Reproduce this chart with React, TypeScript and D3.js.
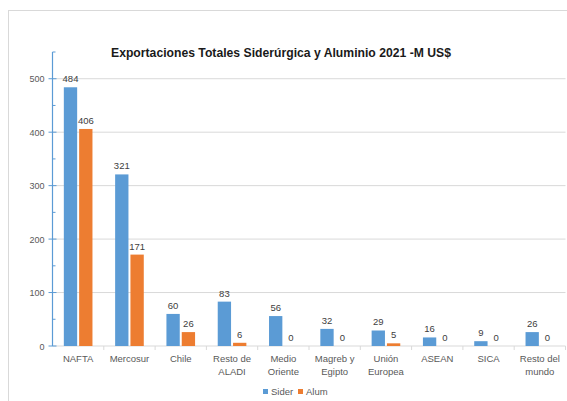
import * as d3 from "d3"

const categories = [
  ["NAFTA"],
  ["Mercosur"],
  ["Chile"],
  ["Resto de", "ALADI"],
  ["Medio", "Oriente"],
  ["Magreb y", "Egipto"],
  ["Unión", "Europea"],
  ["ASEAN"],
  ["SICA"],
  ["Resto del", "mundo"],
]
const sider = [484, 321, 60, 83, 56, 32, 29, 16, 9, 26]
const alum = [406, 171, 26, 6, 0, 0, 5, 0, 0, 0]
const seriesNames = ["Sider", "Alum"]
const colors = ["#5B9BD5", "#ED7D31"]
const yTicks = [0, 100, 200, 300, 400, 500]
const title = "Exportaciones Totales Siderúrgica y Aluminio 2021 -M US$"

const W = 567
const H = 401
const left = 52.5
const right = 565.5
const top = 52
const bottom = 346
const textColor = "#595959"
const font = "'Liberation Sans', Arial, sans-serif"

export default function App() {
  const keys = categories.map((c) => c.join(" "))
  const x = d3.scaleBand<string>().domain(keys).range([left, right]).paddingInner(0).paddingOuter(0)
  const x1 = d3
    .scaleBand<string>()
    .domain(seriesNames)
    .range([0, x.bandwidth()])
    .paddingInner(0.13)
    .paddingOuter(0.74)
  const y = d3.scaleLinear().domain([0, 550]).range([bottom, top])
  const minor = d3.range(50, 551, 100)
  const values = [sider, alum]

  return (
    <svg
      width={W}
      height={H}
      style={{ position: "absolute", left: 0, top: 0, background: "#fff" }}
      fontFamily={font}
    >
      <rect x={8.5} y={10.5} width={620} height={420} fill="#fff" stroke="#D9D9D9" />
      <text
        x={281}
        y={57}
        textAnchor="middle"
        fontSize={13.5}
        fontWeight="bold"
        fill="#1a1a1a"
        textLength={340}
        lengthAdjust="spacingAndGlyphs"
      >
        {title}
      </text>

      {/* grid */}
      {yTicks.slice(1).map((t) => (
        <line key={t} x1={left} x2={right} y1={y(t)} y2={y(t)} stroke="#D9D9D9" />
      ))}

      {/* x axis */}
      <line x1={left} x2={right} y1={bottom} y2={bottom} stroke="#D9D9D9" />
      {keys.map((k) => (
        <line key={k} x1={x(k)! + x.bandwidth()} x2={x(k)! + x.bandwidth()} y1={bottom} y2={bottom + 4} stroke="#D9D9D9" />
      ))}

      {/* y axis */}
      <line x1={left} x2={left} y1={top} y2={bottom} stroke="#5B9BD5" strokeWidth={1.2} />
      {yTicks.map((t) => (
        <g key={t}>
          <line x1={left - 4} x2={left + 4} y1={y(t)} y2={y(t)} stroke="#5B9BD5" />
          <text x={left - 8} y={y(t) + 3.5} textAnchor="end" fontSize={9} fill={textColor}>
            {t}
          </text>
        </g>
      ))}
      {minor.map((t) => (
        <line key={t} x1={left} x2={left + 3} y1={y(t)} y2={y(t)} stroke="#5B9BD5" />
      ))}

      {/* bars */}
      {keys.map((k, i) => (
        <g key={k} transform={`translate(${x(k)},0)`}>
          {seriesNames.map((s, j) => {
            const v = values[j][i]
            const bx = x1(s)!
            return (
              <g key={s}>
                <rect x={bx} y={y(v)} width={x1.bandwidth()} height={bottom - y(v)} fill={colors[j]} />
                <text
                  x={bx + x1.bandwidth() / 2}
                  y={y(v) - 5}
                  textAnchor="middle"
                  fontSize={9.5}
                  fill="#404040"
                >
                  {v}
                </text>
              </g>
            )
          })}
          <text textAnchor="middle" fontSize={9.5} fill={textColor}>
            {categories[i].map((line, li) => (
              <tspan key={li} x={x.bandwidth() / 2} y={362 + li * 13}>
                {line}
              </tspan>
            ))}
          </text>
        </g>
      ))}

      {/* legend */}
      {seriesNames.map((s, j) => {
        const lx = 263 + j * 35
        return (
          <g key={s}>
            <rect x={lx} y={389} width={5} height={5} fill={colors[j]} />
            <text x={lx + 8} y={395} fontSize={9.5} fill={textColor}>
              {s}
            </text>
          </g>
        )
      })}
    </svg>
  )
}
